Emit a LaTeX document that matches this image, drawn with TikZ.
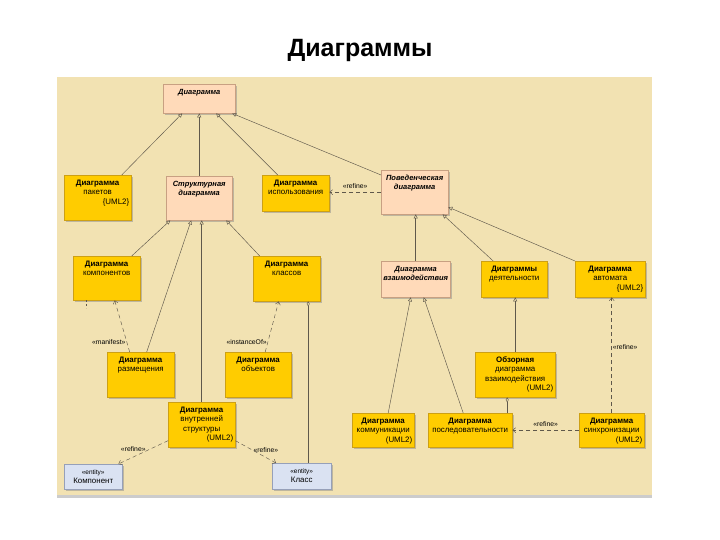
\documentclass[tikz,border=0pt]{standalone}
\usepackage{fontspec}
\setmainfont{Liberation Sans}
\usepackage{tikz}
\usetikzlibrary{arrows.meta,shadows}
\definecolor{bgc}{RGB}{242,226,178}
\definecolor{yel}{RGB}{255,204,0}
\definecolor{yeld}{RGB}{205,160,20}
\definecolor{pch}{RGB}{255,218,185}
\definecolor{pchd}{RGB}{200,160,130}
\definecolor{blu}{RGB}{218,226,242}
\definecolor{blud}{RGB}{150,160,185}
\definecolor{linec}{RGB}{95,88,75}
\newcommand{\umlbox}[7]{\node[#2, minimum width=#5pt, minimum height=#6pt, anchor=north west] (#1) at (#3,#4) {\parbox[c][\dimexpr#6pt-4pt\relax][t]{\dimexpr#5pt-4pt\relax}{\centering\rule{0pt}{8pt}#7}};}
\newcommand{\umltag}[1]{\par\hspace*{0pt plus 1filll}#1}

\begin{document}
\begin{tikzpicture}[x=1pt,y=-1pt]
\tikzstyle{base}=[rectangle, inner sep=2pt, line width=0.4pt, font=\fontsize{7.9}{9.5}\selectfont, drop shadow={shadow xshift=1.5pt, shadow yshift=-1.5pt, fill=black!45, opacity=0.5}]
\tikzstyle{ybox}=[base, fill=yel, draw=yeld]
\tikzstyle{abox}=[base, fill=pch, draw=pchd, font=\fontsize{7.5}{9.5}\selectfont\bfseries\itshape]
\tikzstyle{ebox}=[base, fill=blu, draw=blud]
\tikzstyle{gen}=[draw=linec, line width=0.45pt, -{Triangle[open,length=4pt,width=4pt]}]
\tikzstyle{agg}=[draw=linec, line width=0.45pt, -{Diamond[open,length=5pt,width=3pt]}]
\tikzstyle{dep}=[draw=linec, line width=0.45pt, dash pattern=on 4pt off 3pt, -{Straight Barb[length=3pt,width=5pt]}]
\tikzstyle{stereo}=[font=\fontsize{6.8}{8}\selectfont, inner sep=1pt, text=black]
\useasboundingbox (0,0) rectangle (720,540);
\fill[white] (0,0) rectangle (720,540);
\fill[bgc] (57,77) rectangle (652,497);
\fill[black!20] (57,495) rectangle (652,498);
\node[font=\fontsize{25}{30}\selectfont\bfseries] (title) at (360,50) {Диаграммы};

	\umlbox{dia}{abox}{163}{84}{72}{29}{Диаграмма}
	\umlbox{pak}{ybox}{64}{175}{67}{45}{\textbf{Диаграмма}\\пакетов\umltag{\{UML2\}}}
	\umlbox{str}{abox}{166}{176}{66}{44}{Структурная\\диаграмма}
	\umlbox{isp}{ybox}{262}{175}{67}{36}{\textbf{Диаграмма}\\использования}
	\umlbox{pov}{abox}{381}{170}{67}{44}{Поведенческая\\диаграмма}
	\umlbox{kom}{ybox}{73}{256}{67}{44}{\textbf{Диаграмма}\\компонентов}
	\umlbox{kla}{ybox}{253}{256}{67}{45}{\textbf{Диаграмма}\\классов}
	\umlbox{vza}{abox}{381}{261}{69}{36}{Диаграмма\\взаимодействия}
	\umlbox{dey}{ybox}{481}{261}{66}{36}{\textbf{Диаграммы}\\деятельности}
	\umlbox{avt}{ybox}{575}{261}{70}{36}{\textbf{Диаграмма}\\автомата\umltag{\{UML2\}}}
	\umlbox{raz}{ybox}{107}{352}{67}{45}{\textbf{Диаграмма}\\размещения}
	\umlbox{obj}{ybox}{225}{352}{66}{45}{\textbf{Диаграмма}\\объектов}
	\umlbox{obz}{ybox}{475}{352}{80}{45}{\textbf{Обзорная}\\диаграмма\\взаимодействия\umltag{(UML2)}}
	\umlbox{vnu}{ybox}{168}{402}{67}{45}{\textbf{Диаграмма}\\внутренней\\структуры\umltag{(UML2)}}
	\umlbox{kmm}{ybox}{352}{413}{62}{34}{\textbf{Диаграмма}\\коммуникации\umltag{(UML2)}}
	\umlbox{pos}{ybox}{428}{413}{84}{34}{\textbf{Диаграмма}\\последовательности}
	\umlbox{sin}{ybox}{579}{413}{65}{34}{\textbf{Диаграмма}\\синхронизации\umltag{(UML2)}}
	\umlbox{ekom}{ebox}{64}{464}{58}{25}{{\fontsize{6.5}{7}\selectfont «entity»}\\Компонент}
	\umlbox{ekla}{ebox}{272}{463}{59}{26}{{\fontsize{6.5}{7}\selectfont «entity»}\\Класс}

	\coordinate (ekla_top) at ([xshift=6.5pt]ekla.north);
	\coordinate (pos_top) at ([xshift=37pt]pos.north);
	\coordinate (stub_a) at ([xshift=-20pt]kom.south);
	\coordinate (stub_b) at ([yshift=-8pt]stub_a);

	\path
		([xshift=24pt]pak.north) edge[gen] ([xshift=-17pt]dia.south)
		(str.north) edge[gen] (dia.south)
		([xshift=-18pt]isp.north) edge[gen] ([xshift=17pt]dia.south)
		([yshift=-5pt]pov.north west) edge[gen] ([xshift=33pt]dia.south)
		([xshift=25pt]kom.north) edge[gen] ([xshift=-29pt]str.south)
		([xshift=6pt]raz.north) edge[gen] ([xshift=-8pt]str.south)
		(vnu.north) edge[gen] (vnu.north |- str.south)
		([xshift=-27pt]kla.north) edge[gen] ([xshift=27pt]str.south)
		(vza.north) edge[gen] (vza.north |- pov.south)
		([xshift=-21pt]dey.north) edge[gen] ([xshift=28pt]pov.south)
		(avt.north west) edge[gen] ([yshift=-15pt]pov.east)
		([xshift=5pt]kmm.north) edge[gen] ([xshift=-5pt]vza.south)
		([xshift=-7pt]pos.north) edge[gen] ([xshift=8pt]vza.south)
		(obz.north) edge[gen] (obz.north |- dey.south)
		(ekla_top) edge[agg] (ekla_top |- kla.south)
		(pos_top) edge[agg] (pos_top |- obz.south);

	\path
		(pov.west) edge[dep] node[stereo, above=2pt] {«refine»} (pov.west -| isp.east)
		([xshift=-11pt]raz.north) edge[dep] node[stereo, pos=0.2, left] {«manifest»} ([xshift=8pt]kom.south)
		([xshift=7pt]obj.north) edge[dep] node[stereo, pos=0.2, left] {«instanceOf»} ([xshift=-8pt]kla.south)
		([yshift=-16pt]vnu.west) edge[dep] node[stereo, pos=0.7, above=4pt] {«refine»} ([xshift=-4pt]ekom.north east)
		([yshift=-16pt]vnu.east) edge[dep] node[stereo, pos=0.75, above=4pt] {«refine»} ([xshift=4pt]ekla.north west)
		(sin.west) edge[dep] node[stereo, above=2pt] {«refine»} (sin.west -| pos.east)
		(sin.north) edge[dep] node[stereo, pos=0.57, right] {«refine»} (sin.north |- avt.south);
	\draw[draw=linec, line width=0.45pt, dash pattern=on 2pt off 2pt] (stub_a) -- (stub_b);

\end{tikzpicture}
\end{document}
